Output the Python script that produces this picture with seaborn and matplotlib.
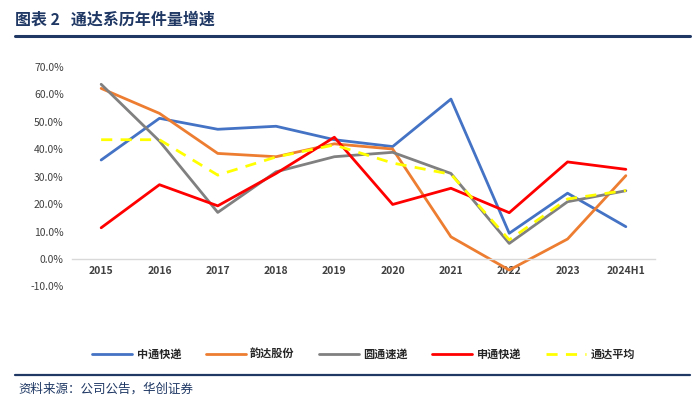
import numpy as np
import pandas as pd
import matplotlib
matplotlib.use("Agg")
import matplotlib.pyplot as plt
import seaborn as sns

# data (growth, %)
years = ["2015", "2016", "2017", "2018", "2019", "2020", "2021", "2022", "2023", "2024H1"]
zto = [36.1, 51.3, 47.3, 48.4, 43.5, 41.0, 58.3, 9.4, 24.0, 11.8]
yunda = [62.2, 53.1, 38.5, 37.3, 42.0, 40.1, 8.1, -4.0, 7.3, 30.4]
yto = [63.7, 43.0, 17.0, 31.8, 37.3, 38.9, 31.2, 5.7, 20.9, 24.9]
sto = [11.4, 27.1, 19.4, 31.2, 44.4, 19.9, 25.8, 16.9, 35.4, 32.7]
avg = [43.5, 43.5, 30.6, 37.2, 41.6, 35.0, 30.9, 7.0, 21.9, 25.0]

series_names = ["中通快递", "韵达股份", "圆通速递", "申通快递", "通达平均"]
series_vals = [zto, yunda, yto, sto, avg]
colors = ["#4472C4", "#ED7D31", "#808080", "#FF0000", "#FFFF00"]

sns.set_theme(style="white")
plt.rcParams['font.family'] = ['Noto Sans CJK SC', 'DejaVu Sans']

fig = plt.figure(figsize=(7.0, 4.05), dpi=100)
ax = fig.add_axes([72 / 700, 1 - 286.5 / 405, 583 / 700, 219.5 / 405])

x = np.arange(len(years))
for name, vals, c in zip(series_names, series_vals, colors):
    dashed = name == "通达平均"
    sns.lineplot(x=x, y=vals, ax=ax, color=c, linewidth=2.0,
                 linestyle=(0, (4, 3)) if dashed else "-", label=name)

# x axis sits on the zero line (set before tick labels, it resets ticks)
for s in ["top", "right", "left"]:
    ax.spines[s].set_visible(False)
ax.spines["bottom"].set_position(("data", 0))
ax.spines["bottom"].set_color("#D9D9D9")
ax.spines["bottom"].set_linewidth(1.0)

ax.set_xlim(-0.5, len(years) - 0.5)
ax.set_ylim(-10, 70)
ax.set_yticks(np.arange(-10, 71, 10))
ax.set_yticklabels([f"{v:.1f}%" for v in np.arange(-10, 71, 10)], fontsize=7.5, color="#404040")
ax.set_xticks(x)
ax.set_xticklabels(years, fontsize=7.5, fontweight="bold", color="#404040")
ax.tick_params(axis="x", length=0, pad=5)
ax.tick_params(axis="y", length=0, pad=6)
ax.set_xlabel("")
ax.set_ylabel("")

ax.legend(loc="center", bbox_to_anchor=(0.5, -0.31), ncol=5, frameon=False,
          handlelength=3.6, columnspacing=2.2, handletextpad=0.4,
          prop={"size": 8, "weight": "bold"}, labelcolor="#262626")

# title and frame lines
fig.text(15 / 700, 1 - 20 / 405, "图表 2   通达系历年件量增速", fontsize=11.5,
         fontweight="bold", color="#1F3864", va="center", ha="left")
fig.add_artist(plt.Line2D([15 / 700, 690 / 700], [1 - 36 / 405] * 2, color="#1F3864", linewidth=2.2))
fig.add_artist(plt.Line2D([15 / 700, 690 / 700], [1 - 375 / 405] * 2, color="#1F3864", linewidth=1.6))
fig.text(18 / 700, 1 - 389 / 405, "资料来源：公司公告，华创证券", fontsize=9,
         style="italic", color="#1F3864", va="center", ha="left")

fig.savefig("out.png", dpi=100)
